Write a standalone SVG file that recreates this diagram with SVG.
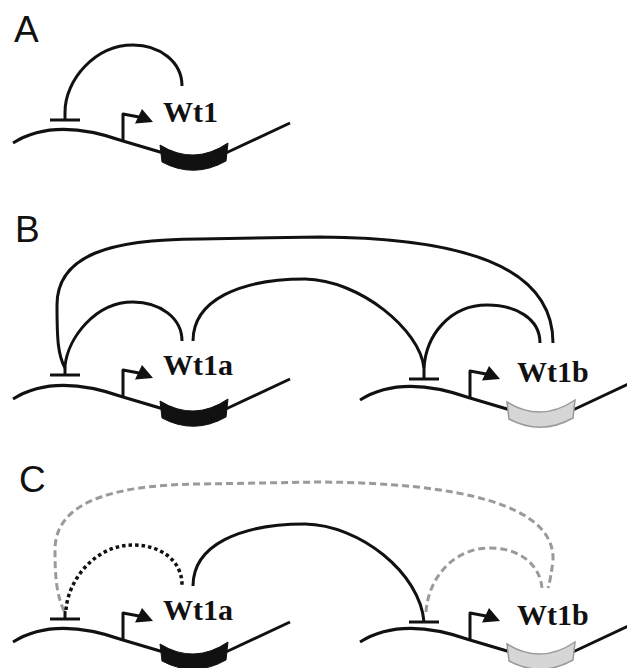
<svg xmlns="http://www.w3.org/2000/svg" width="627" height="668" viewBox="0 0 627 668">
<style>
.lbl{font-family:"Liberation Sans",Arial,sans-serif;font-size:37px;fill:#111}
.gn{font-family:"Liberation Serif","Times New Roman",serif;font-weight:bold;font-size:30px;fill:#111}
.ln{fill:none;stroke:#111;stroke-width:3;stroke-linecap:butt;stroke-linejoin:round}
.dna{fill:none;stroke:#111;stroke-width:3}
.blk{fill:#111;stroke:#111;stroke-width:1}
.gry{fill:#d6d6d6;stroke:#9a9a9a;stroke-width:1.5}
.dash{fill:none;stroke:#9a9a9a;stroke-width:3;stroke-dasharray:7 4}
.dot{fill:none;stroke:#111;stroke-width:3.5;stroke-dasharray:3.5 3}
</style>
<defs>
<g id="dnaLine">
<path class="dna" d="M13,143 C40,126 75,124 123,141 L160,152 Q194,168 228,152 L290,123"/>
<path class="ln" d="M123,142 V114 L139,117"/>
<polygon fill="#111" points="142,109 153,122 135,123.5"/>
</g>
<path id="geneShape" d="M160,145 Q194,166 228,143 L226,161 Q194,179 162,162 Z"/>
<path id="tbar" class="ln" d="M50,120 H80"/>
</defs>

<g id="label-A"><text class="lbl" x="14" y="42">A</text></g>
<g id="label-B"><text class="lbl" x="15" y="242">B</text></g>
<g id="label-C"><text class="lbl" x="19" y="492">C</text></g>

<!-- Panel A -->
<g id="wt1">
<use href="#dnaLine"/>
<use href="#geneShape" class="blk"/>
<text class="gn" x="163" y="122">Wt1</text>
</g>
<g id="wt1-enhancer"><use href="#tbar"/></g>

<!-- Panel B -->
<g id="wt1a-B" transform="translate(0,256)">
<use href="#dnaLine"/>
<use href="#geneShape" class="blk"/>
<text class="gn" x="163" y="119">Wt1a</text>
</g>
<g id="wt1a-enhancer-B" transform="translate(0,255)"><use href="#tbar"/></g>
<g id="wt1b-B" transform="translate(347,257)">
<use href="#dnaLine"/>
<use href="#geneShape" class="gry"/>
<text class="gn" x="170" y="125">Wt1b</text>
</g>
<g id="wt1b-enhancer-B" transform="translate(359,259)"><use href="#tbar"/></g>

<!-- Panel C -->
<g id="wt1a-C" transform="translate(0,499)">
<use href="#dnaLine"/>
<use href="#geneShape" class="blk"/>
<text class="gn" x="163" y="121">Wt1a</text>
</g>
<g id="wt1a-enhancer-C" transform="translate(0,499)"><use href="#tbar"/></g>
<g id="wt1b-C" transform="translate(347,499)">
<use href="#dnaLine"/>
<use href="#geneShape" class="gry"/>
<text class="gn" x="170" y="126">Wt1b</text>
</g>
<g id="wt1b-enhancer-C" transform="translate(359,502)"><use href="#tbar"/></g>

<g id="connectors">
<!-- A -->
<path class="ln" d="M65,120 V112 C65,80 95,45 133,45 C160,45 182,62 182,86"/>
<!-- B -->
<path class="ln" d="M65,375 V366 C68,338 95,302 133,302 C160,302 182,318 182,341"/>
<path class="ln" d="M65,368 C58,355 57,340 57,305 C57,255 110,239 200,239 L320,237 C460,238 553,265 553,343"/>
<path class="ln" d="M193,341 C193,300 240,279 305,279 C360,280 420,330 424,368"/>
<path class="ln" d="M424,379 V368 C426,335 450,305 487,305 C515,305 540,318 540,343"/>
<!-- C -->
<path class="ln" d="M65,619 V611"/>
<path class="dash" d="M64,611 C57,595 55,580 55,550 C55,505 105,485 200,484 L320,482 C460,483 555,505 553,560 Q551,578 548,588"/>
<path class="dot" d="M66,610 C68,580 95,545 133,545 C160,545 182,560 182,585"/>
<path class="ln" d="M193,586 C193,545 240,524 305,524 C360,525 420,573 424,622"/>
<path class="dash" d="M426,612 C428,580 452,548 490,548 C520,548 540,565 542,588"/>
</g>
</svg>
